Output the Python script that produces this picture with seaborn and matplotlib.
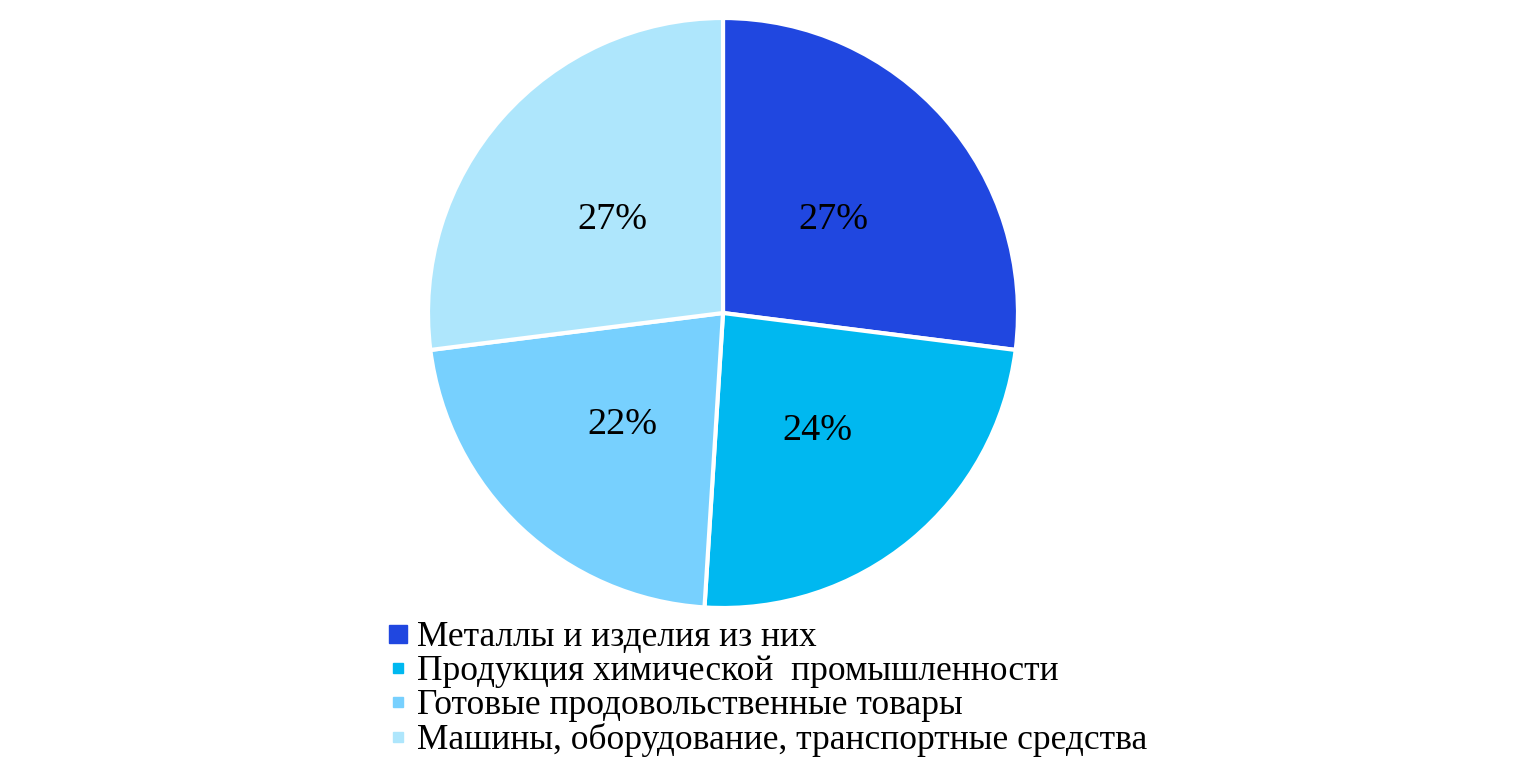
import matplotlib
matplotlib.use("Agg")
import matplotlib.pyplot as plt
import seaborn as sns
from matplotlib.lines import Line2D

# Shares of exports by commodity group (%)
categories = [
    'Металлы и изделия из них',
    'Продукция химической  промышленности',
    'Готовые продовольственные товары',
    'Машины, оборудование, транспортные средства',
]
shares = [27, 24, 22, 27]
colors = ['#2047E0', '#00B8F0', '#77D0FE', '#AEE6FC']

sns.set_theme(style="white")
plt.rcParams['font.family'] = ['Liberation Serif', 'DejaVu Serif']
plt.rcParams['text.color'] = 'black'

fig = plt.figure(figsize=(15.15, 7.75), dpi=100)
# place the pie: centre ~(723, 313) px, radius ~295 px
r_px = 295
ax = fig.add_axes([(723 - r_px) / 1515, 1 - (313 + r_px) / 775, 2 * r_px / 1515, 2 * r_px / 775])

wedges, texts, autotexts = ax.pie(
    shares, colors=colors, startangle=90, counterclock=False,
    autopct='%1.0f%%', pctdistance=0.5,
    wedgeprops=dict(edgecolor='white', linewidth=3),
    textprops=dict(fontsize=27.5, color='black'),
)
# labels sit a little lower in the original
for t in autotexts:
    x, y = t.get_position()
    t.set_position((x, y - 0.015))
ax.set_xlim(-1, 1)
ax.set_ylim(-1, 1)
ax.set_aspect('equal')

# legend markers: first one bigger, like the original
sizes = [13, 7, 7, 7]
handles = [Line2D([], [], linestyle='none', marker='s', markersize=s,
                  markerfacecolor=c, markeredgecolor=c) for s, c in zip(sizes, colors)]
fig.legend(handles, categories, loc='upper left', bbox_to_anchor=(387 / 1515, 1 - 621 / 775),
           frameon=False, fontsize=25.5, handlelength=0.6, handletextpad=0.25,
           labelspacing=0.03, borderpad=0, borderaxespad=0, labelcolor='black')

fig.savefig('out.png', dpi=100)
